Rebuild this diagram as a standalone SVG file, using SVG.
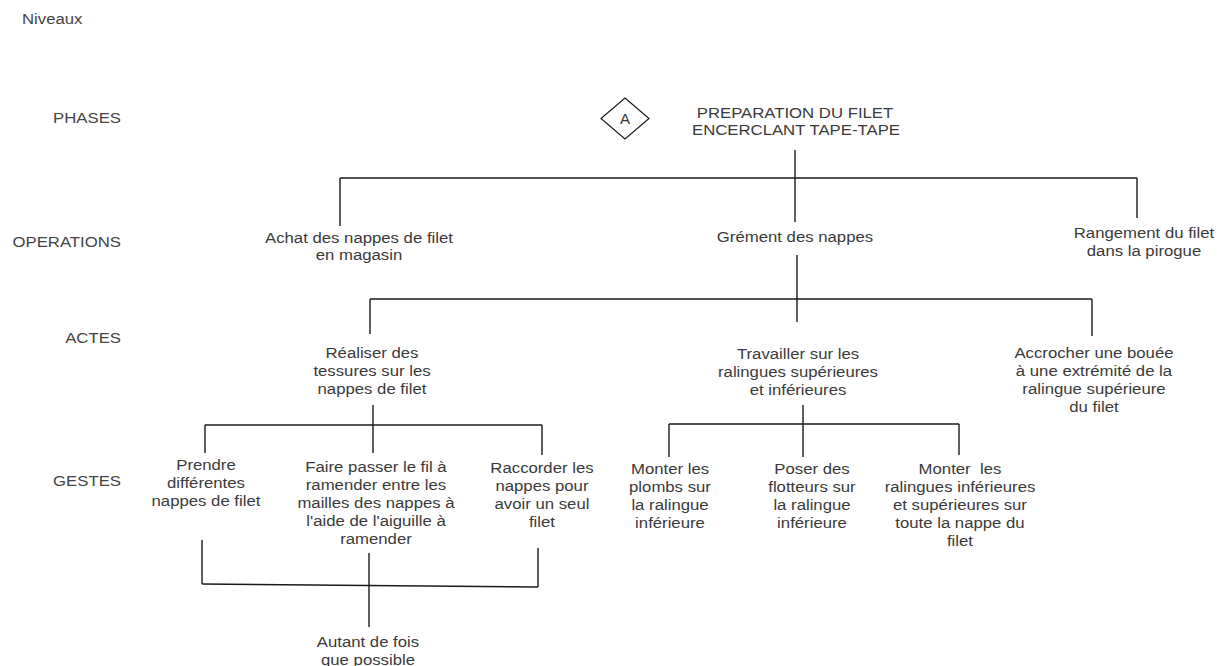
<svg xmlns="http://www.w3.org/2000/svg" width="1226" height="666" viewBox="0 0 1226 666">
<style>
text { font-family: "Liberation Sans", Arial, sans-serif; font-size: 15.5px; fill: #3a3a3a; text-anchor: middle; transform-box: fill-box; transform-origin: center; transform: scaleX(1.08); }
text.lvl { text-anchor: end; transform-origin: right center; fill: #444; }
text.start { text-anchor: start; transform-origin: left center; fill: #444; }
.conn line { stroke: #1a1a1a; stroke-width: 1.4; fill: none; }
.shape { fill: #fff; stroke: #1a1a1a; stroke-width: 1.2; }
</style>
<rect width="1226" height="666" fill="#fff"/>

<g id="levels">
  <text class="start" x="22" y="24">Niveaux</text>
  <text class="lvl" x="121" y="123">PHASES</text>
  <text class="lvl" x="121" y="247">OPERATIONS</text>
  <text class="lvl" x="121" y="343">ACTES</text>
  <text class="lvl" x="121" y="486">GESTES</text>
</g>

<g id="connectors" class="conn">
  <line x1="795" y1="150" x2="795" y2="222"/>
  <line x1="340" y1="178" x2="1137" y2="178"/>
  <line x1="340" y1="178" x2="340" y2="226"/>
  <line x1="1137" y1="178" x2="1137" y2="218"/>

  <line x1="797" y1="255" x2="797" y2="322"/>
  <line x1="370" y1="299" x2="1092" y2="299"/>
  <line x1="370" y1="299" x2="370" y2="334"/>
  <line x1="1092" y1="299" x2="1092" y2="336"/>

  <line x1="373" y1="405" x2="373" y2="453"/>
  <line x1="205" y1="425" x2="542" y2="425"/>
  <line x1="205" y1="425" x2="205" y2="453"/>
  <line x1="542" y1="425" x2="542" y2="455"/>

  <line x1="803" y1="405" x2="803" y2="457"/>
  <line x1="669" y1="424" x2="959" y2="424"/>
  <line x1="669" y1="424" x2="669" y2="457"/>
  <line x1="959" y1="424" x2="959" y2="455"/>

  <line x1="202" y1="540" x2="202" y2="584"/>
  <line x1="538" y1="548" x2="538" y2="587"/>
  <line x1="202" y1="584" x2="538" y2="587"/>
  <line x1="369" y1="553" x2="369" y2="627"/>
</g>

<g id="phase-marker">
  <polygon class="shape" points="625,98 649,118.5 625,139 601,118.5"/>
  <text x="625" y="124" style="font-size:14px">A</text>
</g>

<g id="phase">
  <text x="795" y="118">PREPARATION DU FILET</text>
  <text x="796" y="135">ENCERCLANT TAPE-TAPE</text>
</g>

<g id="op-achat">
  <text x="359" y="243">Achat des nappes de filet</text>
  <text x="359" y="260">en magasin</text>
</g>
<g id="op-grement">
  <text x="795" y="242">Grément des nappes</text>
</g>
<g id="op-rangement">
  <text x="1144" y="238">Rangement du filet</text>
  <text x="1144" y="256">dans la pirogue</text>
</g>

<g id="acte-realiser">
  <text x="372" y="358">Réaliser des</text>
  <text x="372" y="376">tessures sur les</text>
  <text x="372" y="394">nappes de filet</text>
</g>
<g id="acte-travailler">
  <text x="798" y="359">Travailler sur les</text>
  <text x="798" y="377">ralingues supérieures</text>
  <text x="798" y="395">et inférieures</text>
</g>
<g id="acte-accrocher">
  <text x="1094" y="358">Accrocher une bouée</text>
  <text x="1094" y="376">à une extrémité de la</text>
  <text x="1094" y="394">ralingue supérieure</text>
  <text x="1094" y="412">du filet</text>
</g>

<g id="geste-prendre">
  <text x="206" y="470">Prendre</text>
  <text x="206" y="488">différentes</text>
  <text x="206" y="506">nappes de filet</text>
</g>
<g id="geste-faire">
  <text x="376" y="472">Faire passer le fil à</text>
  <text x="376" y="490">ramender entre les</text>
  <text x="376" y="508">mailles des nappes à</text>
  <text x="376" y="526">l'aide de l'aiguille à</text>
  <text x="376" y="544">ramender</text>
</g>
<g id="geste-raccorder">
  <text x="542" y="473">Raccorder les</text>
  <text x="542" y="491">nappes pour</text>
  <text x="542" y="509">avoir un seul</text>
  <text x="542" y="527">filet</text>
</g>
<g id="geste-plombs">
  <text x="670" y="474">Monter les</text>
  <text x="670" y="492">plombs sur</text>
  <text x="670" y="510">la ralingue</text>
  <text x="670" y="528">inférieure</text>
</g>
<g id="geste-flotteurs">
  <text x="812" y="474">Poser des</text>
  <text x="812" y="492">flotteurs sur</text>
  <text x="812" y="510">la ralingue</text>
  <text x="812" y="528">inférieure</text>
</g>
<g id="geste-ralingues">
  <text x="960" y="474" xml:space="preserve">Monter  les</text>
  <text x="960" y="492">ralingues inférieures</text>
  <text x="960" y="510">et supérieures sur</text>
  <text x="960" y="528">toute la nappe du</text>
  <text x="960" y="546">filet</text>
</g>

<g id="autant">
  <text x="368" y="647">Autant de fois</text>
  <text x="368" y="665">que possible</text>
</g>
</svg>
